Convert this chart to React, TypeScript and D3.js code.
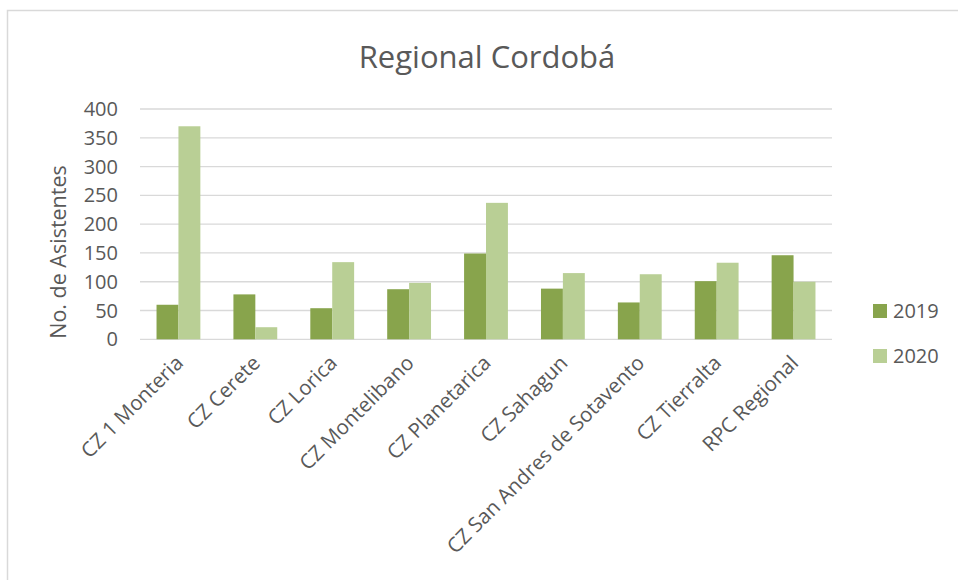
import React from "react";
import * as d3 from "d3";

const categories = [
  "CZ 1 Monteria",
  "CZ Cerete",
  "CZ Lorica",
  "CZ Montelibano",
  "CZ Planetarica",
  "CZ Sahagun",
  "CZ San Andres de Sotavento",
  "CZ Tierralta",
  "RPC Regional",
];
const series2019 = [60, 78, 54, 87, 149, 88, 64, 101, 146];
const series2020 = [370, 21, 134, 98, 237, 115, 113, 133, 100];
const seriesNames = ["2019", "2020"];
const yTicks = [0, 50, 100, 150, 200, 250, 300, 350, 400];

const colors = ["#88a44c", "#b9cf95"];
const textColor = "#595959";
const font = "'Open Sans', 'Noto Sans', sans-serif";

export default function App() {
  const W = 958, H = 580;
  const left = 140, right = 832, top = 109, bottom = 339.3;
  const x = d3.scaleBand<string>().domain(categories).range([left, right]).paddingInner(0.43).paddingOuter(0.215);
  const x1 = d3.scaleBand<string>().domain(seriesNames).range([0, x.bandwidth()]);
  const y = d3.scaleLinear().domain([0, 400]).range([bottom, top]);
  const data = [series2019, series2020];

  return (
    <svg width={W} height={H} style={{ position: "absolute", left: 0, top: 0 }} fontFamily={font}>
      <rect x={0} y={0} width={W} height={H} fill="#fff" />
      <path d={`M7.5,${H} V10.5 H${W}`} fill="none" stroke="#d9d9d9" strokeWidth={1.5} />
      <text x={487} y={68} textAnchor="middle" fontSize={31} fill={textColor}>Regional Cordobá</text>
      {yTicks.map((t) => (
        <g key={t}>
          <line x1={left} x2={right} y1={y(t)} y2={y(t)} stroke="#d9d9d9" strokeWidth={1.3} />
          <text x={118} y={y(t)} dy="0.35em" textAnchor="end" fontSize={20} fill={textColor}>{t}</text>
        </g>
      ))}
      {data.map((s, si) =>
        s.map((v, i) => (
          <rect
            key={si + "-" + i}
            x={(x(categories[i]) as number) + (x1(seriesNames[si]) as number)}
            y={y(v)}
            width={x1.bandwidth()}
            height={y(0) - y(v)}
            fill={colors[si]}
          />
        ))
      )}
      <text transform={`translate(66,252) rotate(-90)`} textAnchor="middle" fontSize={21.5} fill={textColor}>No. de Asistentes</text>
      {categories.map((c) => {
        const cx = (x(c) as number) + x.bandwidth() / 2 + 6;
        return (
          <text key={c} transform={`translate(${cx},${bottom + 25}) rotate(-45)`} textAnchor="end" fontSize={20.5} fill={textColor}>{c}</text>
        );
      })}
      {seriesNames.map((n, i) => (
        <g key={n} transform={`translate(873,${304 + i * 45})`}>
          <rect x={0} y={0} width={14} height={14} fill={colors[i]} />
          <text x={20} y={7} dy="0.35em" fontSize={20} fill={textColor}>{n}</text>
        </g>
      ))}
    </svg>
  );
}
